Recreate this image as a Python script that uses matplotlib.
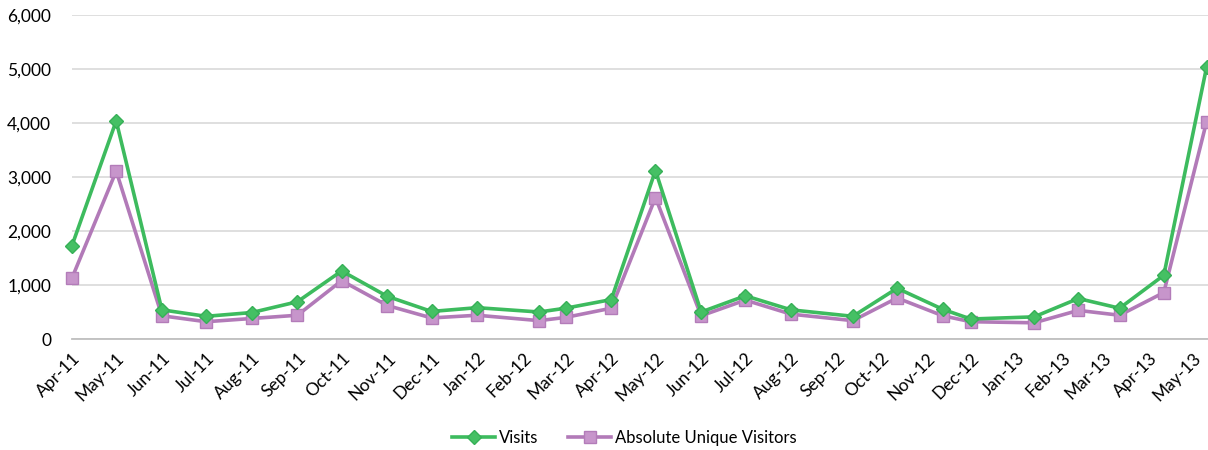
import datetime as dt
import matplotlib
matplotlib.use("Agg")
import matplotlib.pyplot as plt
import matplotlib.dates as mdates
from matplotlib.ticker import FuncFormatter

# ==================================================
# DATA
# ==================================================

sample_dates = [
    "2011-04-01", "2011-05-01", "2011-06-01", "2011-07-01", "2011-08-01",
    "2011-09-01", "2011-10-01", "2011-11-01", "2011-12-01", "2012-01-01",
    "2012-02-12", "2012-03-01", "2012-04-01", "2012-05-01", "2012-06-01",
    "2012-07-01", "2012-08-01", "2012-09-12", "2012-10-12", "2012-11-12",
    "2012-12-01", "2013-01-13", "2013-02-12", "2013-03-12", "2013-04-11",
    "2013-05-10",
]

visits = [
    1730, 4040, 540, 420, 490, 690, 1260, 790, 510, 580,
    500, 570, 730, 3120, 500, 800, 540, 420, 940, 550,
    370, 410, 750, 570, 1180, 5030,
]

unique_visitors = [
    1130, 3110, 430, 320, 380, 440, 1080, 620, 390, 440,
    340, 400, 570, 2620, 430, 720, 460, 340, 760, 430,
    320, 300, 530, 440, 860, 4020,
]

y_ticks = [0, 1000, 2000, 3000, 4000, 5000, 6000]

dates = [dt.datetime.strptime(d, "%Y-%m-%d") for d in sample_dates]

# ==================================================
# PLOT
# ==================================================

plt.rcParams["font.family"] = ["Lato", "DejaVu Sans"]

fig = plt.figure(figsize=(12.08, 4.5), dpi=100)
ax = fig.add_axes([72 / 1208, 1 - 339 / 450, 1 - 72 / 1208, (339 - 15) / 450])

ax.plot(dates, visits, color="#3dbb5e", lw=2.6, marker="D", markersize=7,
        markerfacecolor="#45c064", markeredgecolor="#36b057", label="Visits",
        zorder=3, clip_on=False)
ax.plot(dates, unique_visitors, color="#b27ab8", lw=2.6, marker="s",
        markersize=8, markerfacecolor="#c795cb", markeredgecolor="#b37cb9",
        label="Absolute Unique Visitors", zorder=2, clip_on=False)

ax.set_ylim(0, 6000)
ax.set_yticks(y_ticks)
ax.yaxis.set_major_formatter(FuncFormatter(lambda v, p: f"{int(v):,}"))

ax.set_xlim(dt.datetime(2011, 4, 1), dt.datetime(2013, 5, 11))
ax.xaxis.set_major_locator(mdates.MonthLocator())
ax.xaxis.set_major_formatter(mdates.DateFormatter("%b-%y"))

for lbl in ax.get_xticklabels():
    lbl.set_rotation(45)
    lbl.set_ha("right")
    lbl.set_rotation_mode("anchor")

ax.tick_params(axis="both", length=0, labelsize=12.5, colors="#000000")
ax.tick_params(axis="x", pad=8)
ax.tick_params(axis="y", pad=15)

ax.grid(axis="y", color="#d9d9d9", lw=1.2)
ax.set_axisbelow(True)
for side in ["top", "right", "left"]:
    ax.spines[side].set_visible(False)
ax.spines["bottom"].set_color("#bfbfbf")
ax.spines["bottom"].set_linewidth(1.3)

fig.legend(loc="center", bbox_to_anchor=(624 / 1208, 1 - 438 / 450), ncol=2,
           frameon=False, fontsize=12, handlelength=2.6, columnspacing=1.8,
           handletextpad=0.2)

plt.savefig("out.png", dpi=100, facecolor="white")
